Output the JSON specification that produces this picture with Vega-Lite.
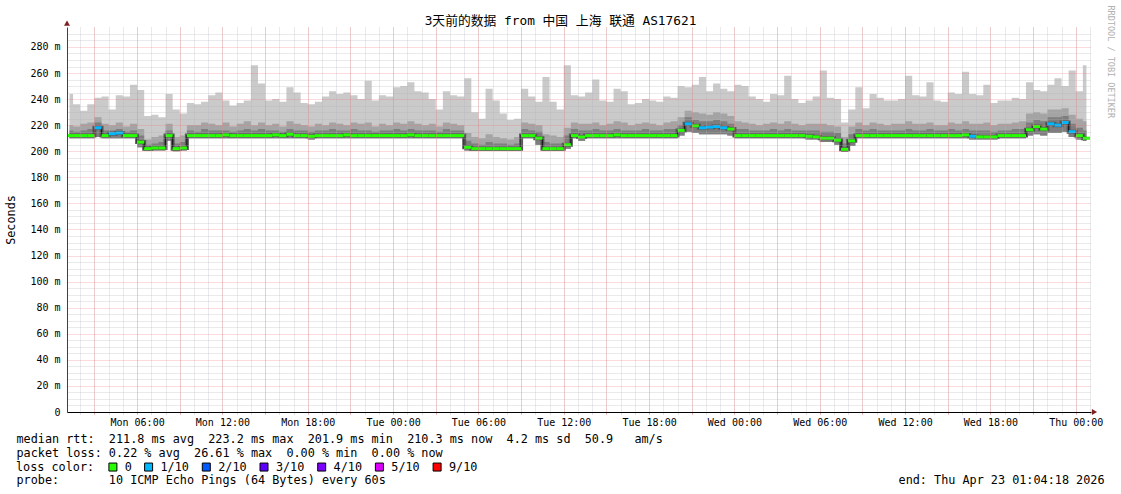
{
  "$schema": "https://vega.github.io/schema/vega-lite/v6.json",
  "width": 1024,
  "height": 385,
  "autosize": {"type": "none"},
  "padding": {"left": 67, "top": 27, "right": 30, "bottom": 82},
  "background": "white",
  "title": {
    "text": "3天前的数据 from 中国 上海 联通 AS17621",
    "font": "DejaVu Sans Mono, Noto Sans CJK SC",
    "fontSize": 12.8,
    "fontWeight": "normal",
    "color": "black",
    "anchor": "middle",
    "frame": "group",
    "dx": -18.5,
    "dy": 34,
    "baseline": "alphabetic",
    "offset": 1
  },
  "config": {"view": {"stroke": null}},
  "datasets": {
    "ping": [
      {"t":"2026-04-20T01:15:00","med":212,"loss":"0","lo":210,"p7":216,"p8":220,"hi":244},
      {"t":"2026-04-20T01:45:00","med":212,"loss":"0","lo":210,"p7":215,"p8":219,"hi":236},
      {"t":"2026-04-20T02:15:00","med":212,"loss":"0","lo":210,"p7":216,"p8":221,"hi":231},
      {"t":"2026-04-20T02:45:00","med":212,"loss":"0","lo":210,"p7":217,"p8":222,"hi":236},
      {"t":"2026-04-20T03:15:00","med":218,"loss":"1/10","lo":211,"p7":222,"p8":226,"hi":241},
      {"t":"2026-04-20T03:45:00","med":212,"loss":"0","lo":210,"p7":216,"p8":221,"hi":242},
      {"t":"2026-04-20T04:15:00","med":213.5,"loss":"1/10","lo":210,"p7":216,"p8":220,"hi":232},
      {"t":"2026-04-20T04:45:00","med":214,"loss":"1/10","lo":210,"p7":217,"p8":222,"hi":243},
      {"t":"2026-04-20T05:15:00","med":212,"loss":"0","lo":210,"p7":215,"p8":219,"hi":242},
      {"t":"2026-04-20T05:45:00","med":212,"loss":"0","lo":210,"p7":216,"p8":221,"hi":251},
      {"t":"2026-04-20T06:15:00","med":207,"loss":"0","lo":203,"p7":212,"p8":217,"hi":247},
      {"t":"2026-04-20T06:45:00","med":202,"loss":"0","lo":200.5,"p7":205,"p8":209,"hi":227},
      {"t":"2026-04-20T07:15:00","med":202.5,"loss":"0","lo":200.5,"p7":206,"p8":211,"hi":228},
      {"t":"2026-04-20T07:45:00","med":202.5,"loss":"0","lo":200.5,"p7":207,"p8":212,"hi":226},
      {"t":"2026-04-20T08:15:00","med":212,"loss":"0","lo":208,"p7":216,"p8":221,"hi":244},
      {"t":"2026-04-20T08:45:00","med":202,"loss":"0","lo":200,"p7":206,"p8":211,"hi":232},
      {"t":"2026-04-20T09:15:00","med":202.5,"loss":"0","lo":200.5,"p7":207,"p8":212,"hi":229},
      {"t":"2026-04-20T09:45:00","med":212,"loss":"0","lo":210,"p7":216,"p8":220,"hi":237},
      {"t":"2026-04-20T10:15:00","med":212,"loss":"0","lo":210,"p7":215,"p8":220,"hi":236},
      {"t":"2026-04-20T10:45:00","med":212,"loss":"0","lo":210,"p7":217,"p8":222,"hi":238},
      {"t":"2026-04-20T11:15:00","med":212,"loss":"0","lo":210,"p7":216,"p8":221,"hi":243},
      {"t":"2026-04-20T11:45:00","med":212,"loss":"0","lo":210,"p7":216,"p8":220,"hi":245},
      {"t":"2026-04-20T12:15:00","med":212.5,"loss":"0","lo":210,"p7":216,"p8":222,"hi":239},
      {"t":"2026-04-20T12:45:00","med":212,"loss":"0","lo":210,"p7":215,"p8":219,"hi":235},
      {"t":"2026-04-20T13:15:00","med":212,"loss":"0","lo":210,"p7":216,"p8":221,"hi":237},
      {"t":"2026-04-20T13:45:00","med":212,"loss":"0","lo":210,"p7":217,"p8":223,"hi":239},
      {"t":"2026-04-20T14:15:00","med":212,"loss":"0","lo":210,"p7":216,"p8":220,"hi":266},
      {"t":"2026-04-20T14:45:00","med":212,"loss":"0","lo":210,"p7":217,"p8":222,"hi":252},
      {"t":"2026-04-20T15:15:00","med":212,"loss":"0","lo":210,"p7":216,"p8":220,"hi":239},
      {"t":"2026-04-20T15:45:00","med":212.5,"loss":"0","lo":210,"p7":216,"p8":221,"hi":240},
      {"t":"2026-04-20T16:15:00","med":212,"loss":"0","lo":210,"p7":215,"p8":219,"hi":238},
      {"t":"2026-04-20T16:45:00","med":213,"loss":"0","lo":210,"p7":217,"p8":223,"hi":249},
      {"t":"2026-04-20T17:15:00","med":212,"loss":"0","lo":210,"p7":216,"p8":221,"hi":245},
      {"t":"2026-04-20T17:45:00","med":212,"loss":"0","lo":210,"p7":216,"p8":220,"hi":237},
      {"t":"2026-04-20T18:15:00","med":211.5,"loss":"0","lo":209,"p7":215,"p8":219,"hi":236},
      {"t":"2026-04-20T18:45:00","med":212,"loss":"0","lo":210,"p7":216,"p8":221,"hi":238},
      {"t":"2026-04-20T19:15:00","med":212,"loss":"0","lo":210,"p7":216,"p8":220,"hi":242},
      {"t":"2026-04-20T19:45:00","med":212,"loss":"0","lo":210,"p7":217,"p8":222,"hi":246},
      {"t":"2026-04-20T20:15:00","med":212,"loss":"0","lo":210,"p7":216,"p8":221,"hi":244},
      {"t":"2026-04-20T20:45:00","med":212.5,"loss":"0","lo":210,"p7":216,"p8":220,"hi":245},
      {"t":"2026-04-20T21:15:00","med":212,"loss":"0","lo":210,"p7":217,"p8":222,"hi":243},
      {"t":"2026-04-20T21:45:00","med":212,"loss":"0","lo":210,"p7":216,"p8":221,"hi":240},
      {"t":"2026-04-20T22:15:00","med":212,"loss":"0","lo":210,"p7":216,"p8":222,"hi":254},
      {"t":"2026-04-20T22:45:00","med":212,"loss":"0","lo":210,"p7":215,"p8":219,"hi":239},
      {"t":"2026-04-20T23:15:00","med":212,"loss":"0","lo":210,"p7":216,"p8":221,"hi":243},
      {"t":"2026-04-20T23:45:00","med":212,"loss":"0","lo":210,"p7":216,"p8":220,"hi":242},
      {"t":"2026-04-21T00:15:00","med":212,"loss":"0","lo":210,"p7":217,"p8":222,"hi":249},
      {"t":"2026-04-21T00:45:00","med":212,"loss":"0","lo":210,"p7":216,"p8":221,"hi":250},
      {"t":"2026-04-21T01:15:00","med":212.5,"loss":"0","lo":210,"p7":217,"p8":223,"hi":253},
      {"t":"2026-04-21T01:45:00","med":212,"loss":"0","lo":210,"p7":216,"p8":221,"hi":246},
      {"t":"2026-04-21T02:15:00","med":212,"loss":"0","lo":210,"p7":216,"p8":220,"hi":245},
      {"t":"2026-04-21T02:45:00","med":212,"loss":"0","lo":210,"p7":216,"p8":221,"hi":240},
      {"t":"2026-04-21T03:15:00","med":212,"loss":"0","lo":210,"p7":215,"p8":219,"hi":232},
      {"t":"2026-04-21T03:45:00","med":212,"loss":"0","lo":210,"p7":217,"p8":222,"hi":246},
      {"t":"2026-04-21T04:15:00","med":212,"loss":"0","lo":210,"p7":216,"p8":221,"hi":243},
      {"t":"2026-04-21T04:45:00","med":212,"loss":"0","lo":210,"p7":216,"p8":220,"hi":242},
      {"t":"2026-04-21T05:15:00","med":203,"loss":"0","lo":200.5,"p7":208,"p8":214,"hi":256},
      {"t":"2026-04-21T05:45:00","med":202,"loss":"0","lo":200.5,"p7":206,"p8":211,"hi":230},
      {"t":"2026-04-21T06:15:00","med":202,"loss":"0","lo":200.5,"p7":205,"p8":210,"hi":225},
      {"t":"2026-04-21T06:45:00","med":202,"loss":"0","lo":200.5,"p7":207,"p8":213,"hi":248},
      {"t":"2026-04-21T07:15:00","med":202,"loss":"0","lo":200.5,"p7":206,"p8":211,"hi":239},
      {"t":"2026-04-21T07:45:00","med":202,"loss":"0","lo":200.5,"p7":206,"p8":210,"hi":229},
      {"t":"2026-04-21T08:15:00","med":202,"loss":"0","lo":200.5,"p7":205,"p8":209,"hi":224},
      {"t":"2026-04-21T08:45:00","med":202,"loss":"0","lo":200.5,"p7":206,"p8":211,"hi":225},
      {"t":"2026-04-21T09:15:00","med":212,"loss":"0","lo":210,"p7":217,"p8":222,"hi":248},
      {"t":"2026-04-21T09:45:00","med":212,"loss":"0","lo":210,"p7":216,"p8":221,"hi":242},
      {"t":"2026-04-21T10:15:00","med":210,"loss":"0","lo":205,"p7":215,"p8":220,"hi":238},
      {"t":"2026-04-21T10:45:00","med":202,"loss":"0","lo":200.5,"p7":207,"p8":213,"hi":257},
      {"t":"2026-04-21T11:15:00","med":202,"loss":"0","lo":200.5,"p7":206,"p8":212,"hi":238},
      {"t":"2026-04-21T11:45:00","med":202,"loss":"0","lo":200.5,"p7":206,"p8":211,"hi":232},
      {"t":"2026-04-21T12:15:00","med":205,"loss":"0","lo":202,"p7":212,"p8":218,"hi":266},
      {"t":"2026-04-21T12:45:00","med":212,"loss":"0","lo":210,"p7":217,"p8":222,"hi":243},
      {"t":"2026-04-21T13:15:00","med":211,"loss":"0","lo":208,"p7":216,"p8":221,"hi":242},
      {"t":"2026-04-21T13:45:00","med":212,"loss":"0","lo":210,"p7":216,"p8":221,"hi":245},
      {"t":"2026-04-21T14:15:00","med":212,"loss":"0","lo":210,"p7":217,"p8":222,"hi":255},
      {"t":"2026-04-21T14:45:00","med":212,"loss":"0","lo":210,"p7":216,"p8":220,"hi":239},
      {"t":"2026-04-21T15:15:00","med":212,"loss":"0","lo":210,"p7":216,"p8":221,"hi":238},
      {"t":"2026-04-21T15:45:00","med":212.5,"loss":"0","lo":210,"p7":217,"p8":223,"hi":248},
      {"t":"2026-04-21T16:15:00","med":212,"loss":"0","lo":210,"p7":216,"p8":222,"hi":246},
      {"t":"2026-04-21T16:45:00","med":212,"loss":"0","lo":210,"p7":216,"p8":220,"hi":236},
      {"t":"2026-04-21T17:15:00","med":212,"loss":"0","lo":210,"p7":216,"p8":221,"hi":237},
      {"t":"2026-04-21T17:45:00","med":212,"loss":"0","lo":210,"p7":217,"p8":222,"hi":240},
      {"t":"2026-04-21T18:15:00","med":212,"loss":"0","lo":210,"p7":216,"p8":221,"hi":239},
      {"t":"2026-04-21T18:45:00","med":212,"loss":"0","lo":210,"p7":216,"p8":220,"hi":238},
      {"t":"2026-04-21T19:15:00","med":212,"loss":"0","lo":210,"p7":217,"p8":222,"hi":242},
      {"t":"2026-04-21T19:45:00","med":212,"loss":"0","lo":210,"p7":217,"p8":223,"hi":241},
      {"t":"2026-04-21T20:15:00","med":216,"loss":"0","lo":212,"p7":220,"p8":226,"hi":250},
      {"t":"2026-04-21T20:45:00","med":221,"loss":"1/10","lo":215,"p7":226,"p8":231,"hi":249},
      {"t":"2026-04-21T21:15:00","med":219.5,"loss":"0","lo":214,"p7":224,"p8":230,"hi":251},
      {"t":"2026-04-21T21:45:00","med":218,"loss":"1/10","lo":213,"p7":223,"p8":229,"hi":257},
      {"t":"2026-04-21T22:15:00","med":218.5,"loss":"1/10","lo":213,"p7":223,"p8":228,"hi":246},
      {"t":"2026-04-21T22:45:00","med":219,"loss":"1/10","lo":213,"p7":224,"p8":230,"hi":252},
      {"t":"2026-04-21T23:15:00","med":218,"loss":"1/10","lo":213,"p7":223,"p8":229,"hi":248},
      {"t":"2026-04-21T23:45:00","med":217,"loss":"0","lo":212,"p7":221,"p8":227,"hi":246},
      {"t":"2026-04-22T00:15:00","med":212,"loss":"0","lo":210,"p7":217,"p8":223,"hi":251},
      {"t":"2026-04-22T00:45:00","med":212,"loss":"0","lo":210,"p7":217,"p8":222,"hi":250},
      {"t":"2026-04-22T01:15:00","med":212,"loss":"0","lo":210,"p7":216,"p8":221,"hi":242},
      {"t":"2026-04-22T01:45:00","med":212,"loss":"0","lo":210,"p7":216,"p8":220,"hi":240},
      {"t":"2026-04-22T02:15:00","med":212,"loss":"0","lo":210,"p7":216,"p8":221,"hi":238},
      {"t":"2026-04-22T02:45:00","med":212,"loss":"0","lo":210,"p7":217,"p8":222,"hi":244},
      {"t":"2026-04-22T03:15:00","med":212,"loss":"0","lo":210,"p7":216,"p8":221,"hi":243},
      {"t":"2026-04-22T03:45:00","med":212,"loss":"0","lo":210,"p7":217,"p8":223,"hi":258},
      {"t":"2026-04-22T04:15:00","med":212,"loss":"0","lo":210,"p7":216,"p8":221,"hi":240},
      {"t":"2026-04-22T04:45:00","med":212,"loss":"0","lo":210,"p7":216,"p8":220,"hi":237},
      {"t":"2026-04-22T05:15:00","med":211.5,"loss":"0","lo":209,"p7":216,"p8":221,"hi":239},
      {"t":"2026-04-22T05:45:00","med":211,"loss":"0","lo":209,"p7":216,"p8":221,"hi":242},
      {"t":"2026-04-22T06:15:00","med":210,"loss":"0","lo":207,"p7":215,"p8":221,"hi":262},
      {"t":"2026-04-22T06:45:00","med":210,"loss":"0","lo":207,"p7":215,"p8":220,"hi":241},
      {"t":"2026-04-22T07:15:00","med":208.5,"loss":"0","lo":205,"p7":214,"p8":219,"hi":240},
      {"t":"2026-04-22T07:45:00","med":201.5,"loss":"0","lo":199.5,"p7":206,"p8":211,"hi":222},
      {"t":"2026-04-22T08:15:00","med":208,"loss":"0","lo":204,"p7":213,"p8":219,"hi":232},
      {"t":"2026-04-22T08:45:00","med":212,"loss":"0","lo":210,"p7":217,"p8":222,"hi":249},
      {"t":"2026-04-22T09:15:00","med":212,"loss":"0","lo":210,"p7":216,"p8":220,"hi":233},
      {"t":"2026-04-22T09:45:00","med":212,"loss":"0","lo":210,"p7":217,"p8":222,"hi":244},
      {"t":"2026-04-22T10:15:00","med":212,"loss":"0","lo":210,"p7":216,"p8":221,"hi":241},
      {"t":"2026-04-22T10:45:00","med":212,"loss":"0","lo":210,"p7":216,"p8":220,"hi":239},
      {"t":"2026-04-22T11:15:00","med":212,"loss":"0","lo":210,"p7":216,"p8":221,"hi":239},
      {"t":"2026-04-22T11:45:00","med":212,"loss":"0","lo":210,"p7":216,"p8":221,"hi":240},
      {"t":"2026-04-22T12:15:00","med":212,"loss":"0","lo":210,"p7":217,"p8":223,"hi":258},
      {"t":"2026-04-22T12:45:00","med":212,"loss":"0","lo":210,"p7":216,"p8":221,"hi":243},
      {"t":"2026-04-22T13:15:00","med":212,"loss":"0","lo":210,"p7":216,"p8":221,"hi":242},
      {"t":"2026-04-22T13:45:00","med":212,"loss":"0","lo":210,"p7":217,"p8":222,"hi":253},
      {"t":"2026-04-22T14:15:00","med":212,"loss":"0","lo":210,"p7":216,"p8":220,"hi":239},
      {"t":"2026-04-22T14:45:00","med":212,"loss":"0","lo":210,"p7":216,"p8":220,"hi":238},
      {"t":"2026-04-22T15:15:00","med":212,"loss":"0","lo":210,"p7":217,"p8":222,"hi":245},
      {"t":"2026-04-22T15:45:00","med":212,"loss":"0","lo":210,"p7":216,"p8":221,"hi":244},
      {"t":"2026-04-22T16:15:00","med":212.5,"loss":"0","lo":210,"p7":217,"p8":223,"hi":261},
      {"t":"2026-04-22T16:45:00","med":211.5,"loss":"1/10","lo":209,"p7":216,"p8":221,"hi":244},
      {"t":"2026-04-22T17:15:00","med":211,"loss":"0","lo":209,"p7":216,"p8":221,"hi":243},
      {"t":"2026-04-22T17:45:00","med":211,"loss":"0","lo":209,"p7":216,"p8":222,"hi":251},
      {"t":"2026-04-22T18:15:00","med":211,"loss":"0","lo":209,"p7":215,"p8":220,"hi":237},
      {"t":"2026-04-22T18:45:00","med":212,"loss":"0","lo":210,"p7":216,"p8":221,"hi":239},
      {"t":"2026-04-22T19:15:00","med":212,"loss":"0","lo":210,"p7":216,"p8":221,"hi":239},
      {"t":"2026-04-22T19:45:00","med":212,"loss":"0","lo":210,"p7":217,"p8":222,"hi":241},
      {"t":"2026-04-22T20:15:00","med":212,"loss":"0","lo":210,"p7":217,"p8":223,"hi":240},
      {"t":"2026-04-22T20:45:00","med":216.5,"loss":"0","lo":212,"p7":222,"p8":229,"hi":253},
      {"t":"2026-04-22T21:15:00","med":219,"loss":"0","lo":213,"p7":224,"p8":230,"hi":247},
      {"t":"2026-04-22T21:45:00","med":217,"loss":"0","lo":212,"p7":223,"p8":229,"hi":246},
      {"t":"2026-04-22T22:15:00","med":221,"loss":"1/10","lo":214,"p7":226,"p8":232,"hi":251},
      {"t":"2026-04-22T22:45:00","med":220,"loss":"1/10","lo":214,"p7":226,"p8":232,"hi":256},
      {"t":"2026-04-22T23:15:00","med":222,"loss":"1/10","lo":215,"p7":227,"p8":233,"hi":250},
      {"t":"2026-04-22T23:45:00","med":215,"loss":"1/10","lo":211,"p7":221,"p8":228,"hi":262},
      {"t":"2026-04-23T00:15:00","med":212,"loss":"0","lo":209,"p7":218,"p8":225,"hi":246},
      {"t":"2026-04-23T00:45:00","med":210,"loss":"0","lo":208,"p7":216,"p8":223,"hi":266}
    ]
  },
  "data": {"name": "ping"},
  "layer": [
    {
      "mark": {"type": "area", "interpolate": "step", "color": "#cacaca", "clip": true},
      "encoding": {
        "x": {"field": "t", "type": "temporal",
          "scale": {"domain": [{"year": 2026, "month": 4, "date": 20, "hours": 1, "minutes": 4, "seconds": 18}, {"year": 2026, "month": 4, "date": 23, "hours": 1, "minutes": 4, "seconds": 18}]},
          "axis": {"orient": "bottom", "grid": true, "gridColor": "#b4b4b4", "gridOpacity": 0.55, "gridDash": [1, 1], "tickCount": 72, "labels": false, "ticks": true, "tickSize": 2, "tickColor": "#b4b4b4", "tickOpacity": 0.55, "domain": false, "title": null, "zindex": 1}},
        "y": {"field": "lo", "type": "quantitative",
          "scale": {"domain": [0, 295.3], "nice": false, "zero": false},
          "axis": {"orient": "left", "values": [5,10,15,25,30,35,45,50,55,65,70,75,85,90,95,105,110,115,125,130,135,145,150,155,165,170,175,185,190,195,205,210,215,225,230,235,245,250,255,265,270,275,285,290], "grid": true, "gridColor": "#b4b4b4", "gridOpacity": 0.55, "gridDash": [1, 1], "labels": false, "ticks": false, "domain": false, "title": null, "zindex": 1}},
        "y2": {"field": "hi"}
      }
    },
    {
      "mark": {"type": "area", "interpolate": "step", "color": "#a4a4a4", "clip": true},
      "encoding": {
        "x": {"field": "t", "type": "temporal",
          "axis": {"orient": "bottom", "grid": true, "gridColor": "#f07070", "gridOpacity": 0.5, "gridDash": [1, 1], "tickCount": 24, "labels": false, "ticks": true, "tickSize": 2, "tickColor": "#f07070", "tickOpacity": 0.5, "domain": false, "title": null, "zindex": 1}},
        "y": {"field": "lo", "type": "quantitative",
          "axis": {"orient": "left", "values": [0,20,40,60,80,100,120,140,160,180,200,220,240,260,280], "grid": true, "gridColor": "#f07070", "gridOpacity": 0.5, "gridDash": [1, 1], "labelExpr": "datum.value == 0 ? '0' : datum.value + ' m'", "labelFont": "DejaVu Sans Mono", "labelFontSize": 10, "labelColor": "black", "labelPadding": 7, "ticks": false, "domain": true, "domainColor": "#404040", "domainWidth": 1, "title": "Seconds", "titleFont": "DejaVu Sans Mono", "titleFontSize": 11.8, "titleFontWeight": "normal", "titleColor": "black", "titleX": -57, "titleY": 192.5, "titleAngle": 270, "titleAlign": "center", "titleBaseline": "middle", "zindex": 1}},
        "y2": {"field": "p8"}
      }
    },
    {
      "mark": {"type": "area", "interpolate": "step", "color": "#7e7e7e", "clip": true},
      "encoding": {
        "x": {"field": "t", "type": "temporal",
          "axis": {"orient": "bottom", "values": [
              {"year": 2026, "month": 4, "date": 20, "hours": 6},
              {"year": 2026, "month": 4, "date": 20, "hours": 12},
              {"year": 2026, "month": 4, "date": 20, "hours": 18},
              {"year": 2026, "month": 4, "date": 21, "hours": 0},
              {"year": 2026, "month": 4, "date": 21, "hours": 6},
              {"year": 2026, "month": 4, "date": 21, "hours": 12},
              {"year": 2026, "month": 4, "date": 21, "hours": 18},
              {"year": 2026, "month": 4, "date": 22, "hours": 0},
              {"year": 2026, "month": 4, "date": 22, "hours": 6},
              {"year": 2026, "month": 4, "date": 22, "hours": 12},
              {"year": 2026, "month": 4, "date": 22, "hours": 18},
              {"year": 2026, "month": 4, "date": 23, "hours": 0}],
            "format": "%a %H:%M", "labelFont": "DejaVu Sans Mono", "labelFontSize": 10, "labelColor": "black", "labelPadding": 5, "labelFlush": false, "labelOverlap": false,
            "ticks": false, "grid": false, "domain": true, "domainColor": "black", "domainWidth": 1,
            "title": ["median rtt:\u00a0\u00a0211.8 ms avg\u00a0\u00a0223.2 ms max\u00a0\u00a0201.9 ms min\u00a0\u00a0210.3 ms now\u00a0\u00a04.2 ms sd\u00a0\u00a050.9\u00a0\u00a0\u00a0am/s", "packet loss: 0.22 % avg\u00a0\u00a026.61 % max\u00a0\u00a00.00 % min\u00a0\u00a00.00 % now"],
            "titleFont": "DejaVu Sans Mono", "titleFontSize": 11.8, "titleFontWeight": "normal", "titleColor": "black", "titleX": -51, "titleY": 30.5, "titleAlign": "left", "titleBaseline": "alphabetic", "titleLineHeight": 13.9, "zindex": 1}},
        "y": {"field": "lo", "type": "quantitative", "axis": null},
        "y2": {"field": "p7"}
      }
    },
    {
      "mark": {"type": "line", "interpolate": "step", "color": "#585858", "strokeWidth": 4, "clip": true},
      "encoding": {
        "x": {"field": "t", "type": "temporal",
          "axis": {"orient": "bottom", "labels": false, "ticks": false, "grid": false, "domain": false, "title": "end: Thu Apr 23 01:04:18 2026", "titleFont": "DejaVu Sans Mono", "titleFontSize": 11.8, "titleFontWeight": "normal", "titleColor": "black", "titleX": 1037, "titleY": 71.3, "titleAlign": "right", "titleBaseline": "alphabetic"}},
        "y": {"field": "med", "type": "quantitative",
          "axis": {"orient": "right", "labels": false, "ticks": false, "grid": false, "domain": false, "title": "RRDTOOL / TOBI OETIKER", "titleFont": "DejaVu Sans Mono", "titleFontSize": 8.5, "titleFontWeight": "normal", "titleColor": "#b0b0b0", "titleAngle": 90, "titleX": 19, "titleY": -22, "titleAlign": "left", "titleBaseline": "middle"}}
      }
    },
    {
      "mark": {"type": "line", "interpolate": "step", "color": "#1a1a1a", "strokeWidth": 1.2, "clip": true},
      "encoding": {
        "x": {"field": "t", "type": "temporal",
          "axis": {"orient": "bottom", "labels": false, "ticks": false, "grid": false, "domain": false, "title": "probe:\u00a0\u00a0\u00a0\u00a0\u00a0\u00a0\u00a010 ICMP Echo Pings (64 Bytes) every 60s", "titleFont": "DejaVu Sans Mono", "titleFontSize": 11.8, "titleFontWeight": "normal", "titleColor": "black", "titleX": -51, "titleY": 71.6, "titleAlign": "left", "titleBaseline": "alphabetic"}},
        "y": {"field": "med", "type": "quantitative", "axis": null}
      }
    },
    {
      "mark": {"type": "tick", "orient": "horizontal", "size": 7.2, "thickness": 3, "opacity": 1, "clip": true},
      "encoding": {
        "x": {"field": "t", "type": "temporal", "axis": null},
        "y": {"field": "med", "type": "quantitative", "axis": null},
        "color": {"field": "loss", "type": "nominal",
          "scale": {"domain": ["0", "1/10", "2/10", "3/10", "4/10", "5/10", "9/10"], "range": ["#26ff00", "#00b8ff", "#0059ff", "#5e00ff", "#7e00ff", "#dd00ff", "#ff0000"]},
          "legend": {"title": "loss color:", "orient": "none", "legendX": -51, "legendY": 434, "direction": "horizontal", "titleOrient": "left", "titleFont": "DejaVu Sans Mono", "titleFontSize": 11.8, "titleFontWeight": "normal", "titleColor": "black", "titlePadding": 12, "labelFont": "DejaVu Sans Mono", "labelFontSize": 11.8, "labelColor": "black", "labelOffset": 6, "symbolType": "square", "symbolSize": 64, "symbolStrokeColor": "black", "symbolStrokeWidth": 1, "symbolOpacity": 1, "columnPadding": 9.7, "padding": 0}}
      }
    },
    {
      "data": {"values": [{"t": "2026-04-20T01:04:18", "v": 298.2}]},
      "mark": {"type": "point", "shape": "triangle-up", "filled": true, "color": "#802020", "size": 36, "opacity": 1},
      "encoding": {
        "x": {"field": "t", "type": "temporal", "axis": null},
        "y": {"field": "v", "type": "quantitative", "axis": null}
      }
    },
    {
      "data": {"values": [{"t": "2026-04-23T01:19:00", "v": 0}]},
      "mark": {"type": "point", "shape": "triangle-right", "filled": true, "color": "#802020", "size": 36, "opacity": 1},
      "encoding": {
        "x": {"field": "t", "type": "temporal", "axis": null},
        "y": {"field": "v", "type": "quantitative", "axis": null}
      }
    }
  ],
  "resolve": {"axis": {"x": "independent", "y": "independent"}}
}
